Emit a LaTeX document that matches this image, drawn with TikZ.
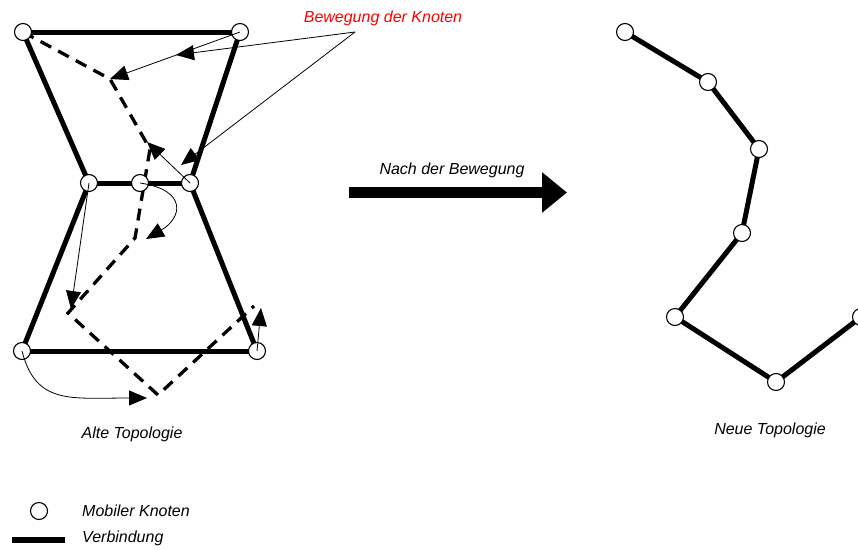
\documentclass[tikz,border=0pt]{standalone}
\usepackage{fontspec}
\setmainfont{Liberation Sans}
\usetikzlibrary{arrows.meta}
\pgfdeclarelayer{bg}
\pgfsetlayers{bg,main}
\begin{document}
\begin{tikzpicture}[x=1pt,y=-1pt,
  knot/.style={circle,draw,fill=white,line width=1.1pt,minimum size=17pt,inner sep=0pt},
  link/.style={line width=5pt},
  moved/.style={line width=3.3pt,dash pattern=on 12pt off 8pt},
  move/.style={line width=0.8pt,-{Triangle[length=18pt,width=15pt]}},
  lbl/.style={font=\fontsize{16}{19}\selectfont\itshape,inner sep=0pt}]
\useasboundingbox (0,0) rectangle (858,549);

% old topology
\node[knot] (A) at (23,32) {};
\node[knot] (B) at (240,32) {};
\node[knot] (C) at (89,183) {};
\node[knot] (D) at (140,183) {};
\node[knot] (E) at (190,183) {};
\node[knot] (F) at (22,351) {};
\node[knot] (G) at (257,351) {};

% new positions of the moving nodes
\coordinate (Bn) at (110,79);
\coordinate (En) at (150,149);
\coordinate (Dn) at (135,238);
\coordinate (Cn) at (68,313);
\coordinate (Fn) at (158,395);
\coordinate (Gn) at (254,306);
% arrow tips
\coordinate (tipE) at (147,142);
\coordinate (tipD) at (146,239);
\coordinate (tipC) at (71,309);
\coordinate (tipF) at (147,398);
\coordinate (tipG) at (261,308);

\begin{pgfonlayer}{bg}
  \draw[link] (A.center) -- (B.center);
  \draw[link] (A.center) -- (C.center);
  \draw[link] (B.center) -- (E.center);
  \draw[link] (C.center) -- (D.center) -- (E.center);
  \draw[link] (C.center) -- (F.center);
  \draw[link] (E.center) -- (G.center);
  \draw[link] (F.center) -- (G.center);
  \draw[moved] (A.center) -- (Bn) -- (En) -- (Dn) -- (Cn) -- (Fn) -- (Gn);
\end{pgfonlayer}

% movements
\draw[move] (B.center) -- (Bn);
\draw[move] (E.center) -- (tipE);
\draw[move] (D.center) .. controls (188,190) and (182,218) .. (tipD);
\draw[move] (C.center) -- (tipC);
\draw[move] (F.center) .. controls (36,405) and (70,398) .. (tipF);
\draw[move] (G.center) -- (tipG);

% callout
\node[lbl,text=red] (lab) at (383,18) {Bewegung der Knoten};
\coordinate (call) at (355,32);
\coordinate (c1) at (176,55);
\coordinate (c2) at (181,165);
\draw[move] (call) -- (c1);
\draw[move] (call) -- (c2);

\node[lbl] (alt) at (132,434) {Alte Topologie};

% transition arrow
\coordinate (go1) at (349,192.5);
\coordinate (go2) at (567,192.5);
\draw[line width=11pt,-{Triangle[length=25pt,width=39pt]}] (go1) -- (go2);
\node[lbl] (nach) at (452,170) {Nach der Bewegung};

% new topology
\node[knot] (N1) at (625,32) {};
\node[knot] (N2) at (708,82) {};
\node[knot] (N3) at (759,149) {};
\node[knot] (N4) at (742,233) {};
\node[knot] (N5) at (675,317) {};
\node[knot] (N6) at (776,382) {};
\node[knot] (N7) at (861,317) {};
\begin{pgfonlayer}{bg}
  \draw[link] (N1.center) -- (N2.center) -- (N3.center) -- (N4.center)
    -- (N5.center) -- (N6.center) -- (N7.center);
\end{pgfonlayer}
\node[lbl] (neu) at (770,430) {Neue Topologie};

% legend
\node[knot] (legk) at (39,511) {};
\node[lbl,anchor=west] (legkt) at (82,511) {Mobiler Knoten};
\coordinate (legl1) at (12,540);
\coordinate (legl2) at (65,540);
\draw[line width=6.5pt] (legl1) -- (legl2);
\node[lbl,anchor=west] (leglt) at (82,538) {Verbindung};
\end{tikzpicture}
\end{document}
